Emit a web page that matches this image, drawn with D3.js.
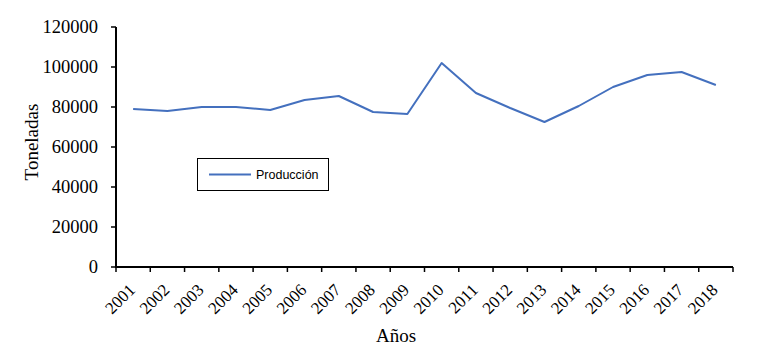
<!DOCTYPE html>
<html><head><meta charset="utf-8">
<script src="https://cdn.jsdelivr.net/npm/d3@7"></script>
<style>body{margin:0;background:#fff}svg{display:block}</style>
</head><body>
<svg id="c" width="768" height="358"></svg>
<script>
const years = ["2001","2002","2003","2004","2005","2006","2007","2008","2009","2010","2011","2012","2013","2014","2015","2016","2017","2018"];
const produccion = [79000,78000,80000,80000,78500,83500,85500,77500,76500,102000,87000,79500,72500,80500,90000,96000,97500,91000];
const yTicks = [0,20000,40000,60000,80000,100000,120000];
const seriesName = "Producción";
const xTitle = "Años";
const yTitle = "Toneladas";

const svg = d3.select("#c");
const m = {l:116, r:35, t:27, b:91};
const W = 768, H = 358;
const x = d3.scaleBand().domain(years).range([m.l, W - m.r]);
const y = d3.scaleLinear().domain([0,120000]).range([H - m.b, m.t]);
const serif = "Liberation Serif, Times New Roman, serif";

// x axis
const xa = svg.append("g").attr("transform", `translate(0,${H - m.b})`);
xa.append("line").attr("x1", m.l - 1).attr("x2", W - m.r).attr("stroke", "#000").attr("stroke-width", 2);
const bounds = years.map(d => x(d)).concat([x(years[years.length-1]) + x.bandwidth()]);
xa.selectAll("line.t").data(bounds).join("line").attr("class","t")
  .attr("x1", d => d).attr("x2", d => d).attr("y1", 0).attr("y2", 5)
  .attr("stroke", "#000").attr("stroke-width", 1.5);
xa.selectAll("text").data(years).join("text")
  .attr("transform", d => `translate(${x(d) + x.bandwidth()/2 + 3},${24}) rotate(-45)`)
  .attr("text-anchor", "end")
  .attr("font-family", serif).attr("font-size", 17).text(d => d);

// y axis
const ya = svg.append("g").attr("transform", `translate(${m.l},0)`);
ya.append("line").attr("y1", y(0)+1).attr("y2", y(120000)).attr("stroke", "#000").attr("stroke-width", 2);
ya.selectAll("line.t").data(yTicks).join("line").attr("class","t")
  .attr("x1", -5).attr("x2", 0).attr("y1", d => y(d)).attr("y2", d => y(d))
  .attr("stroke", "#000").attr("stroke-width", 1.5);
ya.selectAll("text").data(yTicks).join("text")
  .attr("x", -18).attr("y", d => y(d)).attr("dy", "0.33em").attr("text-anchor", "end")
  .attr("font-family", serif).attr("font-size", 18.5).text(d => d);

// line
const line = d3.line().x((d,i) => x(years[i]) + x.bandwidth()/2).y(d => y(d));
svg.append("path").datum(produccion).attr("d", line)
  .attr("fill", "none").attr("stroke", "#4470BE").attr("stroke-width", 2).attr("stroke-linejoin","round");

// titles
svg.append("text").attr("x", 396).attr("y", 342).attr("text-anchor", "middle")
  .attr("font-family", serif).attr("font-size", 19).text(xTitle);
svg.append("text").attr("transform", "translate(38,142) rotate(-90)").attr("text-anchor", "middle")
  .attr("font-family", serif).attr("font-size", 19).text(yTitle);

// legend
const lg = svg.append("g");
lg.append("rect").attr("x", 197.5).attr("y", 158.5).attr("width", 131).attr("height", 32)
  .attr("fill", "#fff").attr("stroke", "#000").attr("stroke-width", 1);
lg.append("line").attr("x1", 209).attr("x2", 251).attr("y1", 174.5).attr("y2", 174.5)
  .attr("stroke", "#4470BE").attr("stroke-width", 2);
lg.append("text").attr("x", 256).attr("y", 178.5)
  .attr("font-family", "Liberation Sans, Arial, sans-serif").attr("font-size", 12.5).text(seriesName);
</script>
</body></html>
